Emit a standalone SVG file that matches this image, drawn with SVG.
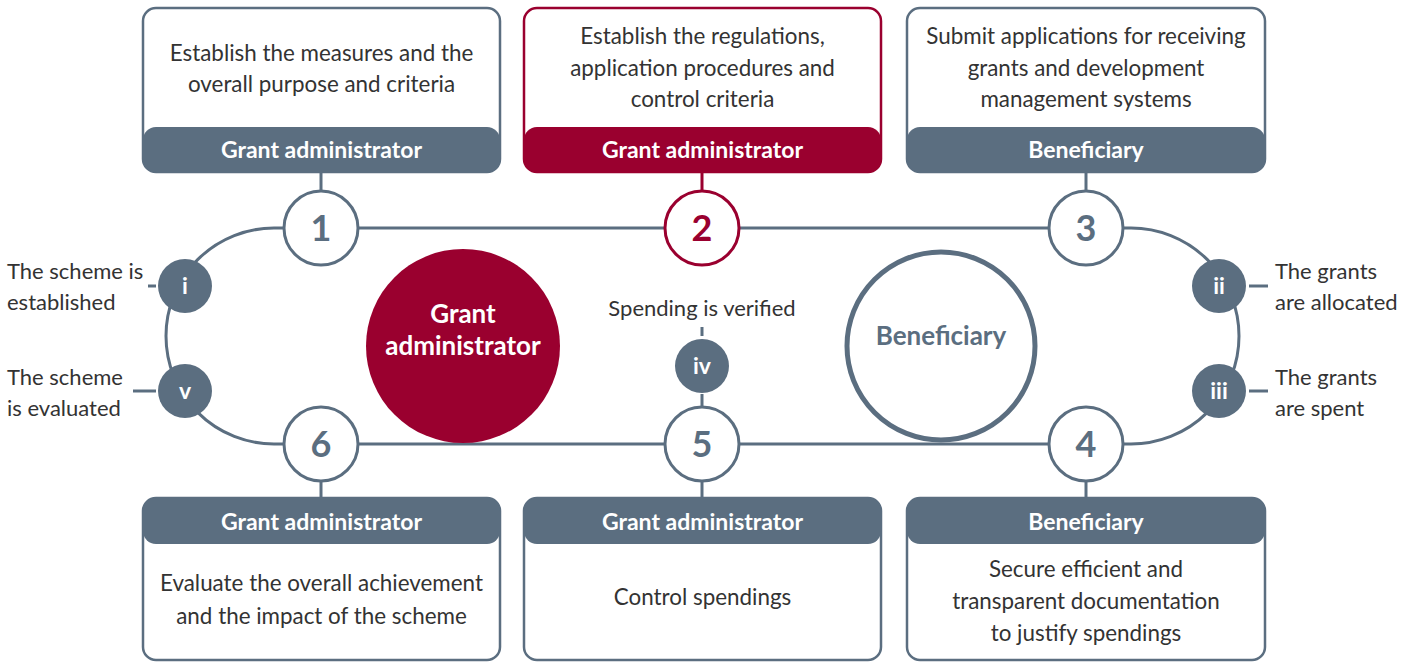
<svg xmlns="http://www.w3.org/2000/svg" width="1418" height="662" viewBox="0 0 1418 662">
<style>
.box{fill:#fff;stroke:#5b6e80;stroke-width:2.5}
.boxr{fill:#fff;stroke:#9a002f;stroke-width:2.5}
.hdr{fill:#5b6e80}
.hdrr{fill:#9a002f}
.body{font-family:Lato,"Liberation Sans",sans-serif;font-size:22.4px;fill:#333;text-anchor:middle}
.side{font-family:Lato,"Liberation Sans",sans-serif;font-size:22px;fill:#333}
.htxt{font-family:Lato,"Liberation Sans",sans-serif;font-size:23px;font-weight:bold;fill:#fff;text-anchor:middle}
.num{fill:#fff;stroke:#5b6e80;stroke-width:3}
.numr{fill:#fff;stroke:#9a002f;stroke-width:3}
.ntxt{font-family:Lato,"Liberation Sans",sans-serif;font-size:36px;font-weight:bold;fill:#5b6e80;text-anchor:middle}
.sm{fill:#5b6e80}
.stxt{font-family:Lato,"Liberation Sans",sans-serif;font-size:23px;font-weight:bold;fill:#fff;text-anchor:middle}
.big{font-family:Lato,"Liberation Sans",sans-serif;font-size:26px;font-weight:bold;text-anchor:middle}
.ln{fill:none;stroke:#5b6e80;stroke-width:3}
.lnr{fill:none;stroke:#9a002f;stroke-width:3}
</style>
<g id="connectors">
<path class="ln" d="M274,228 H1131 A108,108 0 0 1 1131,444 H274 A108,108 0 0 1 274,228 Z"/>
<line class="ln" x1="321" y1="172" x2="321" y2="191"/>
<line class="lnr" x1="702" y1="172" x2="702" y2="191"/>
<line class="ln" x1="1086" y1="172" x2="1086" y2="191"/>
<line class="ln" x1="321" y1="481" x2="321" y2="498"/>
<line class="ln" x1="702" y1="481" x2="702" y2="498"/>
<line class="ln" x1="1086" y1="481" x2="1086" y2="498"/>
<line class="ln" x1="702" y1="327" x2="702" y2="336"/>
<line class="ln" x1="702" y1="394" x2="702" y2="407"/>
<line class="ln" x1="148" y1="286" x2="156" y2="286"/>
<line class="ln" x1="133" y1="391" x2="156" y2="391"/>
<line class="ln" x1="1249" y1="286" x2="1268" y2="286"/>
<line class="ln" x1="1249" y1="391" x2="1268" y2="391"/>
</g>
<g id="box1">
<rect class="box" x="143" y="8" width="357" height="164" rx="13"/>
<rect class="hdr" x="143" y="127" width="357" height="45" rx="13"/>
<text class="body" x="321.5" y="61">Establish the measures and the</text>
<text class="body" x="321.5" y="92">overall purpose and criteria</text>
<text class="htxt" x="321.5" y="158">Grant administrator</text>
</g>
<g id="box2">
<rect class="boxr" x="524" y="8" width="357" height="164" rx="13"/>
<rect class="hdrr" x="524" y="127" width="357" height="45" rx="13"/>
<text class="body" x="702.5" y="44">Establish the regulations,</text>
<text class="body" x="702.5" y="76">application procedures and</text>
<text class="body" x="702.5" y="107">control criteria</text>
<text class="htxt" x="702.5" y="158">Grant administrator</text>
</g>
<g id="box3">
<rect class="box" x="907" y="8" width="358" height="164" rx="13"/>
<rect class="hdr" x="907" y="127" width="358" height="45" rx="13"/>
<text class="body" x="1086" y="44">Submit applications for receiving</text>
<text class="body" x="1086" y="76">grants and development</text>
<text class="body" x="1086" y="107">management systems</text>
<text class="htxt" x="1086" y="158">Beneficiary</text>
</g>
<g id="box6">
<rect class="box" x="143" y="498" width="357" height="162" rx="13"/>
<rect class="hdr" x="143" y="498" width="357" height="46" rx="13"/>
<text class="htxt" x="321.5" y="530">Grant administrator</text>
<text class="body" x="321.5" y="591">Evaluate the overall achievement</text>
<text class="body" x="321.5" y="624">and the impact of the scheme</text>
</g>
<g id="box5">
<rect class="box" x="524" y="498" width="357" height="162" rx="13"/>
<rect class="hdr" x="524" y="498" width="357" height="46" rx="13"/>
<text class="htxt" x="702.5" y="530">Grant administrator</text>
<text class="body" x="702.5" y="605">Control spendings</text>
</g>
<g id="box4">
<rect class="box" x="907" y="498" width="358" height="162" rx="13"/>
<rect class="hdr" x="907" y="498" width="358" height="46" rx="13"/>
<text class="htxt" x="1086" y="530">Beneficiary</text>
<text class="body" x="1086" y="577">Secure efficient and</text>
<text class="body" x="1086" y="609">transparent documentation</text>
<text class="body" x="1086" y="641">to justify spendings</text>
</g>
<g id="n1"><circle class="num" cx="321" cy="228" r="37"/><text class="ntxt" x="321" y="241">1</text></g>
<g id="n2"><circle class="numr" cx="702" cy="228" r="37"/><text class="ntxt" x="702" y="241" style="fill:#9a002f">2</text></g>
<g id="n3"><circle class="num" cx="1086" cy="228" r="37"/><text class="ntxt" x="1086" y="241">3</text></g>
<g id="n4"><circle class="num" cx="1086" cy="444" r="37"/><text class="ntxt" x="1086" y="457">4</text></g>
<g id="n5"><circle class="num" cx="702" cy="444" r="37"/><text class="ntxt" x="702" y="457">5</text></g>
<g id="n6"><circle class="num" cx="321" cy="444" r="37"/><text class="ntxt" x="321" y="457">6</text></g>
<g id="si"><circle class="sm" cx="185" cy="286" r="27"/><text class="stxt" x="185" y="294">i</text></g>
<g id="sv"><circle class="sm" cx="185" cy="391" r="27"/><text class="stxt" x="185" y="399">v</text></g>
<g id="sii"><circle class="sm" cx="1219" cy="286" r="27"/><text class="stxt" x="1219" y="294">ii</text></g>
<g id="siii"><circle class="sm" cx="1219" cy="391" r="27"/><text class="stxt" x="1219" y="399">iii</text></g>
<g id="siv"><circle class="sm" cx="702" cy="366" r="27"/><text class="stxt" x="702" y="374">iv</text></g>
<g id="lab-i"><text class="side" x="7" y="279">The scheme is</text><text class="side" x="7" y="310">established</text></g>
<g id="lab-v"><text class="side" x="7" y="385">The scheme</text><text class="side" x="7" y="416">is evaluated</text></g>
<g id="lab-ii"><text class="side" x="1275" y="279">The grants</text><text class="side" x="1275" y="310">are allocated</text></g>
<g id="lab-iii"><text class="side" x="1275" y="385">The grants</text><text class="side" x="1275" y="416">are spent</text></g>
<g id="lab-iv"><text class="body" x="702" y="316" style="font-size:22px">Spending is verified</text></g>
<g id="grant-admin">
<circle cx="463" cy="346" r="97" fill="#9a002f"/>
<text class="big" x="463" y="323" fill="#fff">Grant</text>
<text class="big" x="463" y="355" fill="#fff">administrator</text>
</g>
<g id="beneficiary">
<circle cx="941" cy="346" r="94" fill="#fff" stroke="#5b6e80" stroke-width="5"/>
<text class="big" x="941" y="345" fill="#5b6e80">Beneficiary</text>
</g>
</svg>
